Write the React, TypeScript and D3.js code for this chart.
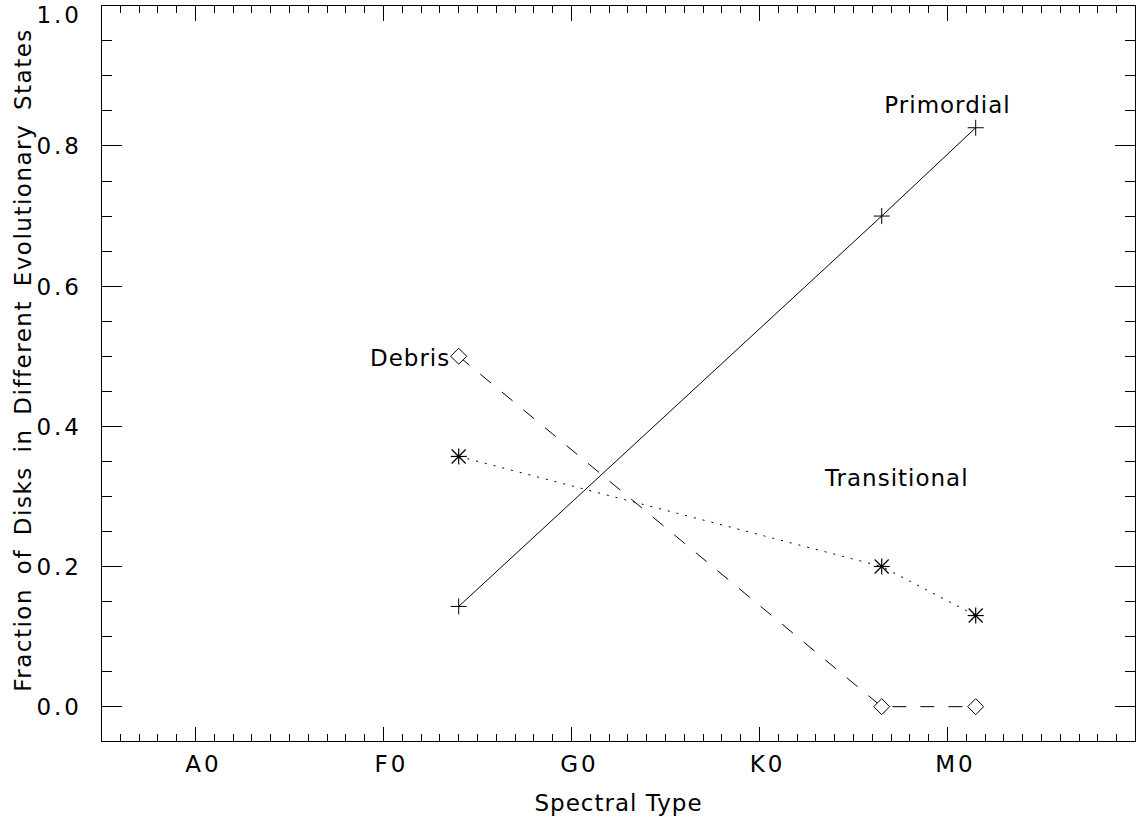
import React from "react";
import * as d3 from "d3";

// Spectral-type axis: A0 = 0, F0 = 10, G0 = 20, K0 = 30, M0 = 40 (one unit per subclass)
const spectralLabels = ["A0", "F0", "G0", "K0", "M0"];
const spectralMajor = [0, 10, 20, 30, 40];

// Bin centres: F4, K6.5, M1.5
const binTypes = [14, 36.5, 41.5];

// Fraction of disks in each evolutionary state per bin
const primordial = [0.143, 0.7, 0.826];
const transitional = [0.357, 0.2, 0.13];
const debris = [0.5, 0.0, 0.0];

const yMajorTicks = [0, 0.2, 0.4, 0.6, 0.8, 1.0];
const yTickLabels = ["0.0", "0.2", "0.4", "0.6", "0.8", "1.0"];

// Curve names, written next to the curves in data coordinates
const curveNames = ["Primordial", "Transitional", "Debris"];
const curveNameX = [40, 37.3, 13.55];
const curveNameY = [0.847, 0.315, 0.486];
const curveNameAnchor = ["middle", "middle", "end"];

const W = 1136;
const H = 825;
const left = 101.5;
const right = 1135.5;
const top = 5.8;
const bottom = 741.7;

const FONT = "'DejaVu Sans', sans-serif";

export default function App() {
  const x = d3.scaleLinear().domain([-5, 50]).range([left, right]);
  const y = d3.scaleLinear().domain([-0.05, 1.0]).range([bottom, top]);

  const plotW = right - left;
  const plotH = bottom - top;
  const xMajLen = 0.02 * plotH;
  const yMajLen = 0.02 * plotW;

  const xMinor = d3.range(-5, 51, 1);
  const yMinor = d3.range(-0.05, 1.0001, 0.05);

  const line = d3
    .line<[number, number]>()
    .x((d) => x(d[0]))
    .y((d) => y(d[1]));

  const pts = (vals: number[]) => binTypes.map((t, i) => [t, vals[i]] as [number, number]);

  const plus = (cx: number, cy: number, k: string) => (
    <g key={k} stroke="#000" strokeWidth={1}>
      <line x1={cx - 8} x2={cx + 8} y1={cy} y2={cy} />
      <line x1={cx} x2={cx} y1={cy - 8} y2={cy + 8} />
    </g>
  );
  const star = (cx: number, cy: number, k: string) => (
    <g key={k} stroke="#000" strokeWidth={1.2}>
      <line x1={cx - 8} x2={cx + 8} y1={cy} y2={cy} />
      <line x1={cx} x2={cx} y1={cy - 8} y2={cy + 8} />
      <line x1={cx - 7} x2={cx + 7} y1={cy - 7} y2={cy + 7} />
      <line x1={cx - 7} x2={cx + 7} y1={cy + 7} y2={cy - 7} />
      <circle cx={cx} cy={cy} r={1.5} fill="#000" stroke="none" />
    </g>
  );
  const diamond = (cx: number, cy: number, k: string) => (
    <path
      key={k}
      d={`M${cx - 8},${cy}L${cx},${cy - 8}L${cx + 8},${cy}L${cx},${cy + 8}Z`}
      fill="#fff"
      stroke="#000"
      strokeWidth={1}
    />
  );

  return (
    <svg
      width={W}
      height={H}
      style={{ position: "absolute", left: 0, top: 0, background: "#fff" }}
      fontFamily={FONT}
    >
      <rect x={0} y={0} width={W} height={H} fill="#fff" />

      {/* ticks */}
      <g stroke="#000" strokeWidth={1} shapeRendering="crispEdges">
        {xMinor.map((v) => {
          const major = v % 10 === 0;
          const len = major ? xMajLen : xMajLen / 2;
          const px = x(v);
          return (
            <g key={"xt" + v}>
              <line x1={px} x2={px} y1={bottom} y2={bottom - len} />
              <line x1={px} x2={px} y1={top} y2={top + len} />
            </g>
          );
        })}
        {yMinor.map((v, i) => {
          const major = yMajorTicks.some((m) => Math.abs(m - v) < 1e-6);
          const len = major ? yMajLen : yMajLen / 2;
          const py = y(v);
          return (
            <g key={"yt" + i}>
              <line x1={left} x2={left + len} y1={py} y2={py} />
              <line x1={right} x2={right - len} y1={py} y2={py} />
            </g>
          );
        })}
        <rect x={left} y={top} width={plotW} height={plotH} fill="none" />
      </g>

      {/* tick labels */}
      <g fontSize={23} fill="#000" letterSpacing={3}>
        {spectralMajor.map((v, i) => (
          <text key={"xl" + i} x={x(v) + 8} y={772} textAnchor="middle">
            {spectralLabels[i]}
          </text>
        ))}
        {yMajorTicks.map((v, i) => (
          <text
            key={"yl" + i}
            x={82}
            y={Math.max(y(v) + 8.5, 23)}
            textAnchor="end"
            letterSpacing={3}
          >
            {yTickLabels[i]}
          </text>
        ))}
      </g>

      {/* axis titles */}
      <text
        x={(left + right) / 2}
        y={811}
        textAnchor="middle"
        fontSize={23}
        letterSpacing={1}
      >
        Spectral Type
      </text>
      <text
        transform={`translate(31,360) rotate(-90)`}
        textAnchor="middle"
        fontSize={23}
        letterSpacing={1.5}
        wordSpacing={5}
      >
        Fraction of Disks in Different Evolutionary States
      </text>

      {/* curves */}
      <path d={line(pts(primordial)) || ""} fill="none" stroke="#000" strokeWidth={1} />
      <path
        d={line(pts(transitional)) || ""}
        fill="none"
        stroke="#000"
        strokeWidth={1}
        strokeDasharray="2,7"
      />
      <path
        d={line(pts(debris)) || ""}
        fill="none"
        stroke="#000"
        strokeWidth={1}
        strokeDasharray="14,14"
      />

      {/* symbols */}
      {pts(primordial).map((p, i) => plus(x(p[0]), y(p[1]), "p" + i))}
      {pts(transitional).map((p, i) => star(x(p[0]), y(p[1]), "t" + i))}
      {pts(debris).map((p, i) => diamond(x(p[0]), y(p[1]), "d" + i))}

      {/* curve names */}
      <g fontSize={23} letterSpacing={1}>
        {curveNames.map((n, i) => (
          <text
            key={n}
            x={x(curveNameX[i])}
            y={y(curveNameY[i])}
            textAnchor={curveNameAnchor[i] as any}
          >
            {n}
          </text>
        ))}
      </g>
    </svg>
  );
}
